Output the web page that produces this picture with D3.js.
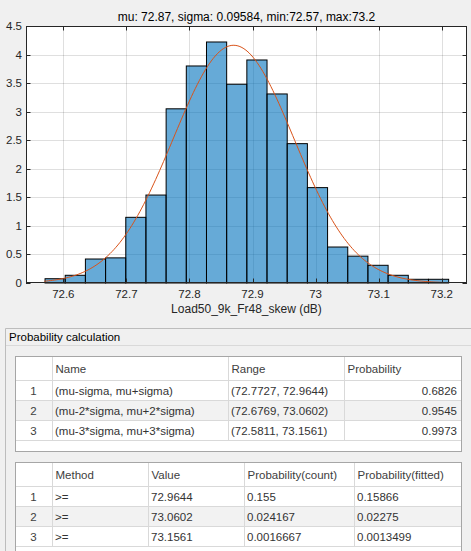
<!DOCTYPE html>
<html>
<head>
<meta charset="utf-8">
<script src="https://cdn.jsdelivr.net/npm/d3@7"></script>
<style>
  body { margin: 0; background: #f0f0f0; }
  svg { display: block; }
  text { font-family: "Liberation Sans", Arial, sans-serif; }
</style>
</head>
<body>
<div class="chart"></div>
<script>
// histogram (pdf normalised), 20 bins
var binStart = 72.571
var binWidth = 0.032
var density = [0.075, 0.135, 0.42, 0.44, 1.15, 1.54, 3.05, 3.80, 4.22, 3.48,
               3.905, 3.31, 2.44, 1.67, 0.63, 0.47, 0.31, 0.135, 0.065, 0.065]
var mu = 72.87, sigma = 0.09584, minV = 72.57, maxV = 73.2
var xTicks = [72.6, 72.7, 72.8, 72.9, 73, 73.1, 73.2]
var yTicks = [0, 0.5, 1, 1.5, 2, 2.5, 3, 3.5, 4, 4.5]
var titleText = 'mu: 72.87, sigma: 0.09584, min:72.57, max:73.2'
var xLabel = 'Load50_9k_Fr48_skew (dB)'

// tables
var panelTitle = 'Probability calculation'
var t1Head = ['', 'Name', 'Range', 'Probability']
var t1Names = ['(mu-sigma, mu+sigma)', '(mu-2*sigma, mu+2*sigma)', '(mu-3*sigma, mu+3*sigma)']
var t1Ranges = ['(72.7727, 72.9644)', '(72.6769, 73.0602)', '(72.5811, 73.1561)']
var t1Probs = ['0.6826', '0.9545', '0.9973']
var t2Head = ['', 'Method', 'Value', 'Probability(count)', 'Probability(fitted)']
var t2Methods = ['>=', '>=', '>=']
var t2Values = ['72.9644', '73.0602', '73.1561']
var t2Count = ['0.155', '0.024167', '0.0016667']
var t2Fitted = ['0.15866', '0.02275', '0.0013499']

var W = 471, H = 551
var plot = {left: 26, right: 467, top: 26, bottom: 283}

var svg = d3.select('.chart')
  .append('svg')
  .attr('width', W)
  .attr('height', H)

svg.append('rect').attr('width', W).attr('height', H).attr('fill', '#f0f0f0')

var x = d3.scaleLinear().domain([72.5408, 73.2401]).range([plot.left, plot.right])
var y = d3.scaleLinear().domain([0, 4.5]).range([plot.bottom, plot.top])
var fmt = function(v) { return String(+v.toFixed(1)) }

svg.append('rect')
  .attr('x', plot.left).attr('y', plot.top)
  .attr('width', plot.right - plot.left).attr('height', plot.bottom - plot.top)
  .attr('fill', '#fff')

// grid
var grid = svg.append('g').attr('stroke', '#262626').attr('stroke-opacity', 0.15).attr('stroke-width', 1)
grid.selectAll('.gx').data(xTicks).enter().append('line')
  .attr('x1', function(d) { return Math.round(x(d)) + 0.5 })
  .attr('x2', function(d) { return Math.round(x(d)) + 0.5 })
  .attr('y1', plot.top).attr('y2', plot.bottom)
grid.selectAll('.gy').data(yTicks.slice(1, -1)).enter().append('line')
  .attr('y1', function(d) { return Math.round(y(d)) + 0.5 })
  .attr('y2', function(d) { return Math.round(y(d)) + 0.5 })
  .attr('x1', plot.left).attr('x2', plot.right)

// bars
svg.append('g').selectAll('rect')
  .data(density)
  .enter().append('rect')
  .attr('x', function(d, i) { return x(binStart + i*binWidth) })
  .attr('width', function(d, i) { return x(binStart + (i+1)*binWidth) - x(binStart + i*binWidth) })
  .attr('y', function(d) { return y(d) })
  .attr('height', function(d) { return y(0) - y(d) })
  .attr('fill', '#0072bd').attr('fill-opacity', 0.6)
  .attr('stroke', '#000').attr('stroke-width', 1)

// fitted normal curve
var curveX = d3.range(0, 201).map(function(i) { return minV + (maxV - minV)*i/200 })
var pdf = function(v) { return Math.exp(-0.5*Math.pow((v-mu)/sigma, 2)) / (sigma*Math.sqrt(2*Math.PI)) }
svg.append('path')
  .datum(curveX)
  .attr('fill', 'none')
  .attr('stroke', '#d95319')
  .attr('stroke-width', 1)
  .attr('d', d3.line().x(function(d) { return x(d) }).y(function(d) { return y(pdf(d)) }))

// axes box with inward ticks
var tl = 4.5
var ax = svg.append('g').attr('stroke', '#262626').attr('stroke-width', 1).attr('fill', 'none')
ax.append('rect')
  .attr('x', plot.left + 0.5).attr('y', plot.top + 0.5)
  .attr('width', plot.right - plot.left - 1).attr('height', plot.bottom - plot.top - 1)
xTicks.forEach(function(d) {
  var px = Math.round(x(d)) + 0.5
  ax.append('line').attr('x1', px).attr('x2', px).attr('y1', plot.bottom).attr('y2', plot.bottom - tl)
  ax.append('line').attr('x1', px).attr('x2', px).attr('y1', plot.top).attr('y2', plot.top + tl)
})
yTicks.forEach(function(d) {
  var py = Math.round(y(d)) + 0.5
  ax.append('line').attr('y1', py).attr('y2', py).attr('x1', plot.left).attr('x2', plot.left + tl)
  ax.append('line').attr('y1', py).attr('y2', py).attr('x1', plot.right).attr('x2', plot.right - tl)
})

var labels = svg.append('g').attr('fill', '#262626').attr('font-size', '11.5px')
labels.selectAll('.xl').data(xTicks).enter().append('text')
  .attr('x', function(d) { return x(d) })
  .attr('y', 298)
  .attr('text-anchor', 'middle')
  .text(fmt)
labels.selectAll('.yl').data(yTicks).enter().append('text')
  .attr('x', 22)
  .attr('y', function(d) { return y(d) })
  .attr('dy', '0.35em')
  .attr('text-anchor', 'end')
  .text(fmt)
labels.append('text')
  .attr('x', (plot.left + plot.right)/2).attr('y', 313)
  .attr('text-anchor', 'middle')
  .attr('font-size', '12px')
  .text(xLabel)
labels.append('text')
  .attr('x', (plot.left + plot.right)/2).attr('y', 20.5)
  .attr('text-anchor', 'middle')
  .attr('font-size', '12px')
  .attr('fill', '#000')
  .text(titleText)

// panel
var panel = svg.append('g')
panel.append('path')
  .attr('d', 'M5.5,551 V328.5 H471')
  .attr('fill', 'none').attr('stroke', '#bdbdbd')
panel.append('line')
  .attr('x1', 6).attr('x2', 471).attr('y1', 345.5).attr('y2', 345.5)
  .attr('stroke', '#d9d9d9')
panel.append('text')
  .attr('x', 9).attr('y', 341)
  .attr('font-size', '11.5px').attr('fill', '#000')
  .text(panelTitle)

function drawTable(top, bottom, cols, head, rows, align) {
  var g = svg.append('g')
  var left = cols[0], right = cols[cols.length - 1]
  var headH = 24, rowH = 20
  g.append('rect').attr('x', left).attr('y', top).attr('width', right - left).attr('height', bottom - top)
    .attr('fill', '#fff')
  rows.forEach(function(r, i) {
    g.append('rect')
      .attr('x', left).attr('y', top + headH + i*rowH)
      .attr('width', right - left).attr('height', rowH)
      .attr('fill', i % 2 ? '#f2f2f2' : '#fff')
  })
  var bodyEnd = top + headH + rows.length*rowH
  // horizontal lines
  var hy = [top + headH].concat(rows.map(function(r, i) { return top + headH + (i+1)*rowH }))
  hy.forEach(function(yy) {
    g.append('line').attr('x1', left).attr('x2', right).attr('y1', yy + 0.5).attr('y2', yy + 0.5)
      .attr('stroke', '#d9d9d9')
  })
  cols.slice(1, -1).forEach(function(xx) {
    g.append('line').attr('x1', xx + 0.5).attr('x2', xx + 0.5).attr('y1', top).attr('y2', bodyEnd)
      .attr('stroke', '#d9d9d9')
  })
  g.append('rect').attr('x', left + 0.5).attr('y', top + 0.5)
    .attr('width', right - left - 1).attr('height', bottom - top - 1)
    .attr('fill', 'none').attr('stroke', '#a6a6a6')
  head.forEach(function(h, j) {
    g.append('text')
      .attr('x', cols[j] + 3.5).attr('y', top + 16.5)
      .attr('font-size', '11.5px').attr('fill', '#404040')
      .text(h)
  })
  rows.forEach(function(r, i) {
    r.forEach(function(c, j) {
      var t = g.append('text')
        .attr('y', top + headH + i*rowH + 14.5)
        .attr('font-size', '11.5px').attr('fill', '#333')
        .text(c)
      if (align[j] === 'c') t.attr('x', (cols[j] + cols[j+1])/2).attr('text-anchor', 'middle').attr('fill', '#404040')
      else if (align[j] === 'r') t.attr('x', cols[j+1] - 5).attr('text-anchor', 'end')
      else t.attr('x', cols[j] + 3)
    })
  })
}

var t1Rows = t1Names.map(function(n, i) { return [String(i+1), n, t1Ranges[i], t1Probs[i]] })
drawTable(356, 452, [15, 52, 228, 344, 462], t1Head, t1Rows, ['c', 'l', 'l', 'r'])

var t2Rows = t2Methods.map(function(m, i) { return [String(i+1), m, t2Values[i], t2Count[i], t2Fitted[i]] })
drawTable(462, 560, [15, 52, 148, 244, 354, 462], t2Head, t2Rows, ['c', 'l', 'l', 'l', 'l'])
</script>
</body>
</html>
